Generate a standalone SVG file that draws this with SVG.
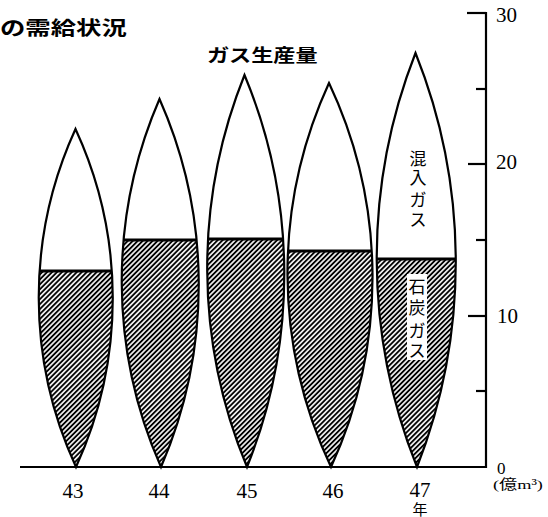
<svg xmlns="http://www.w3.org/2000/svg" xmlns:xlink="http://www.w3.org/1999/xlink" width="548" height="517" viewBox="0 0 548 517">
<style>
.lens{fill:none;stroke:#000;stroke-width:2.2}
.divl{stroke:#000;stroke-width:2.8}
.ax{stroke:#000;stroke-width:2.2;fill:none}
.tk{stroke:#000;stroke-width:2.2}
.ttl{font-family:"Noto Sans CJK JP",sans-serif;font-weight:bold;fill:#000}
.num{font-family:"Liberation Serif","Noto Sans CJK JP",serif;font-size:21px;fill:#000}
.sm{font-family:"Liberation Serif","Noto Sans CJK JP",serif;fill:#000}
.vt{font-family:"Liberation Serif","Noto Sans CJK JP",serif;font-size:17px;fill:#000;text-anchor:middle}
</style>
<defs>
<pattern id="hatch" patternUnits="userSpaceOnUse" width="3.5" height="3.5" patternTransform="rotate(45)">
<rect width="3.5" height="3.5" fill="#fff"/>
<line x1="1.75" y1="0" x2="1.75" y2="3.5" stroke="#000" stroke-width="1.9"/>
</pattern>
<path id="p43" d="M75.5 129 A404.5 404.5 0 0 1 76 467 A404.5 404.5 0 0 1 75.5 129 Z"/>
<path id="p44" d="M159.5 99 A459 459 0 0 1 161 467 A459 459 0 0 1 159.5 99 Z"/>
<path id="p45" d="M244.5 75 A518 518 0 0 1 247 467 A518 518 0 0 1 244.5 75 Z"/>
<path id="p46" d="M329 83 A455 455 0 0 1 331 467 A455 455 0 0 1 329 83 Z"/>
<path id="p47" d="M415.5 53 A562 562 0 0 1 417 467 A562 562 0 0 1 415.5 53 Z"/>
<clipPath id="c43"><use xlink:href="#p43"/></clipPath>
<clipPath id="c44"><use xlink:href="#p44"/></clipPath>
<clipPath id="c45"><use xlink:href="#p45"/></clipPath>
<clipPath id="c46"><use xlink:href="#p46"/></clipPath>
<clipPath id="c47"><use xlink:href="#p47"/></clipPath>
</defs>
<rect width="548" height="517" fill="#fff"/>

<g id="title">
<text class="ttl" font-size="19.5" transform="translate(0,35) scale(1.3,1)">の需給状況</text>
<text class="ttl" font-size="18" transform="translate(207,62) scale(1.23,1)">ガス生産量</text>
</g>

<g id="axis">
<line class="ax" x1="20" y1="467" x2="486" y2="467"/>
<line class="ax" x1="486" y1="12" x2="486" y2="468"/>
<line class="tk" x1="467" y1="13" x2="486" y2="13"/>
<line class="tk" x1="476" y1="89" x2="486" y2="89"/>
<line class="tk" x1="468" y1="164" x2="486" y2="164"/>
<line class="tk" x1="476" y1="240" x2="486" y2="240"/>
<line class="tk" x1="468" y1="316" x2="486" y2="316"/>
<line class="tk" x1="476" y1="391" x2="486" y2="391"/>
<text class="num" x="496" y="22">30</text>
<text class="num" x="496" y="169">20</text>
<text class="num" x="497" y="323">10</text>
<text class="sm" x="497" y="474" style="font-size:17px">0</text>
<text class="sm" style="font-size:13.5px" transform="translate(493,489) scale(1.35,1)">(億m³)</text>
</g>

<g id="bar43">
<use xlink:href="#p43" fill="#fff"/>
<rect x="30" y="271" width="95" height="200" fill="url(#hatch)" clip-path="url(#c43)"/>
<line class="divl" x1="30" y1="271" x2="125" y2="271" clip-path="url(#c43)"/>
<use xlink:href="#p43" class="lens"/>
<text class="num" x="73" y="498" text-anchor="middle">43</text>
</g>
<g id="bar44">
<use xlink:href="#p44" fill="#fff"/>
<rect x="110" y="240" width="100" height="230" fill="url(#hatch)" clip-path="url(#c44)"/>
<line class="divl" x1="110" y1="240" x2="210" y2="240" clip-path="url(#c44)"/>
<use xlink:href="#p44" class="lens"/>
<text class="num" x="159" y="498" text-anchor="middle">44</text>
</g>
<g id="bar45">
<use xlink:href="#p45" fill="#fff"/>
<rect x="195" y="239" width="100" height="230" fill="url(#hatch)" clip-path="url(#c45)"/>
<line class="divl" x1="195" y1="239" x2="295" y2="239" clip-path="url(#c45)"/>
<use xlink:href="#p45" class="lens"/>
<text class="num" x="247" y="498" text-anchor="middle">45</text>
</g>
<g id="bar46">
<use xlink:href="#p46" fill="#fff"/>
<rect x="275" y="251" width="110" height="220" fill="url(#hatch)" clip-path="url(#c46)"/>
<line class="divl" x1="275" y1="251" x2="385" y2="251" clip-path="url(#c46)"/>
<use xlink:href="#p46" class="lens"/>
<text class="num" x="333" y="498" text-anchor="middle">46</text>
</g>
<g id="bar47">
<use xlink:href="#p47" fill="#fff"/>
<rect x="365" y="259" width="105" height="212" fill="url(#hatch)" clip-path="url(#c47)"/>
<line class="divl" x1="365" y1="259" x2="470" y2="259" clip-path="url(#c47)"/>
<use xlink:href="#p47" class="lens"/>
<rect x="407" y="274" width="20" height="86" fill="#fff"/>
<text class="vt" x="418" y="165">混</text>
<text class="vt" x="418" y="184">入</text>
<text class="vt" x="418" y="206">ガ</text>
<text class="vt" x="418" y="226">ス</text>
<text class="vt" x="417" y="293">石</text>
<text class="vt" x="417" y="314">炭</text>
<text class="vt" x="417" y="337">ガ</text>
<text class="vt" x="417" y="357">ス</text>
<text class="num" x="420" y="497" text-anchor="middle">47</text>
<text class="sm" x="420" y="515" text-anchor="middle" style="font-size:15px">年</text>
</g>
</svg>
